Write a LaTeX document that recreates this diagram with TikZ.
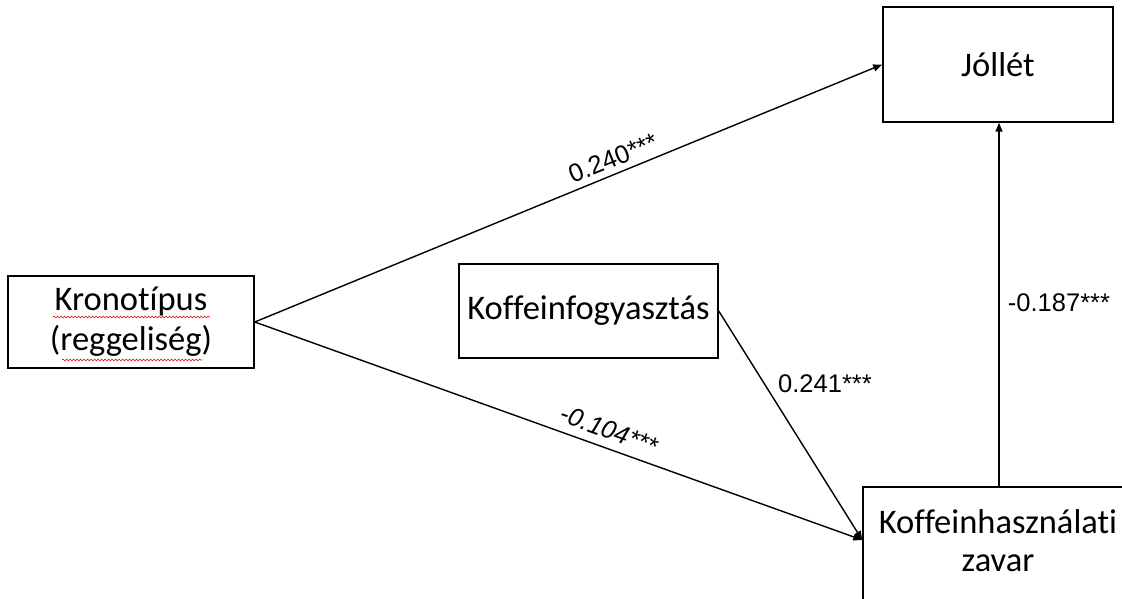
\documentclass[tikz,border=0pt]{standalone}
\usepackage{fontspec}
\setmainfont[Ligatures=NoCommon]{Carlito}
\newfontfamily\arialf{Liberation Sans}
\usetikzlibrary{arrows.meta,decorations.pathmorphing,calc}
\begin{document}
\begin{tikzpicture}[x=1pt,y=-1pt,
  box/.style={draw=black,line width=1.5pt,fill=white,inner sep=0pt,font=\fontsize{34.5}{40}\selectfont,align=center},
  txt/.style={inner sep=0pt,font=\fontsize{34.5}{38}\selectfont,align=center},
  conn/.style={line width=1.4pt,-{Triangle[length=9pt,width=7pt]}},
  coef/.style={inner sep=0pt,font=\arialf\fontsize{25.5}{30}\selectfont},
  squig/.style={draw=red!85!black,line width=0.6pt,decorate,decoration={snake,amplitude=0.9pt,segment length=3.5pt}}]
\useasboundingbox (0,0) rectangle (1122,599);
\clip (0,0) rectangle (1122,599);
\fill[white] (0,0) rectangle (1122,599);
% boxes
\node[box,minimum width=246pt,minimum height=92pt] (kr) at (131,322) {Kronotípus\\(reggeliség)};
\node[box,minimum width=230pt,minimum height=115pt] (jo) at (998,64.5) {Jóllét};
\node[box,minimum width=259pt,minimum height=94pt] (kf) at (588.5,311) {Koffeinfogyasztás};
\node[box,minimum width=272pt,minimum height=140pt,anchor=north] (kh) at (999,486) {};
\node[txt,anchor=north] (khtext) at (998,509) {Koffeinhasználati\\zavar};
% spell-check underlines
\coordinate (s1a) at (53,317); \coordinate (s1b) at (210,317);
\coordinate (s2a) at (62,360); \coordinate (s2b) at (202,360);
\draw[squig] (s1a) -- (s1b);
\draw[squig] (s2a) -- (s2b);
% connectors
\coordinate (khin) at ($(kh.north west)+(0,54)$);
\draw[conn] (kr.east) -- (jo.west);
\draw[conn] (kr.east) -- (khin);
\draw[conn] (kf.east) -- (khin);
\draw[conn] (kh.north) -- (kh.north |- jo.south);
% coefficients
\node[coef,rotate=22.1] (c1) at (613,158) {0.240***};
\node[coef,rotate=-19.8,font=\arialf\itshape\fontsize{25.5}{30}\selectfont] (c2) at (609,430) {-0.104***};
\node[coef] (c3) at (825,384) {0.241***};
\node[coef] (c4) at (1059,303) {-0.187***};
\end{tikzpicture}
\end{document}
